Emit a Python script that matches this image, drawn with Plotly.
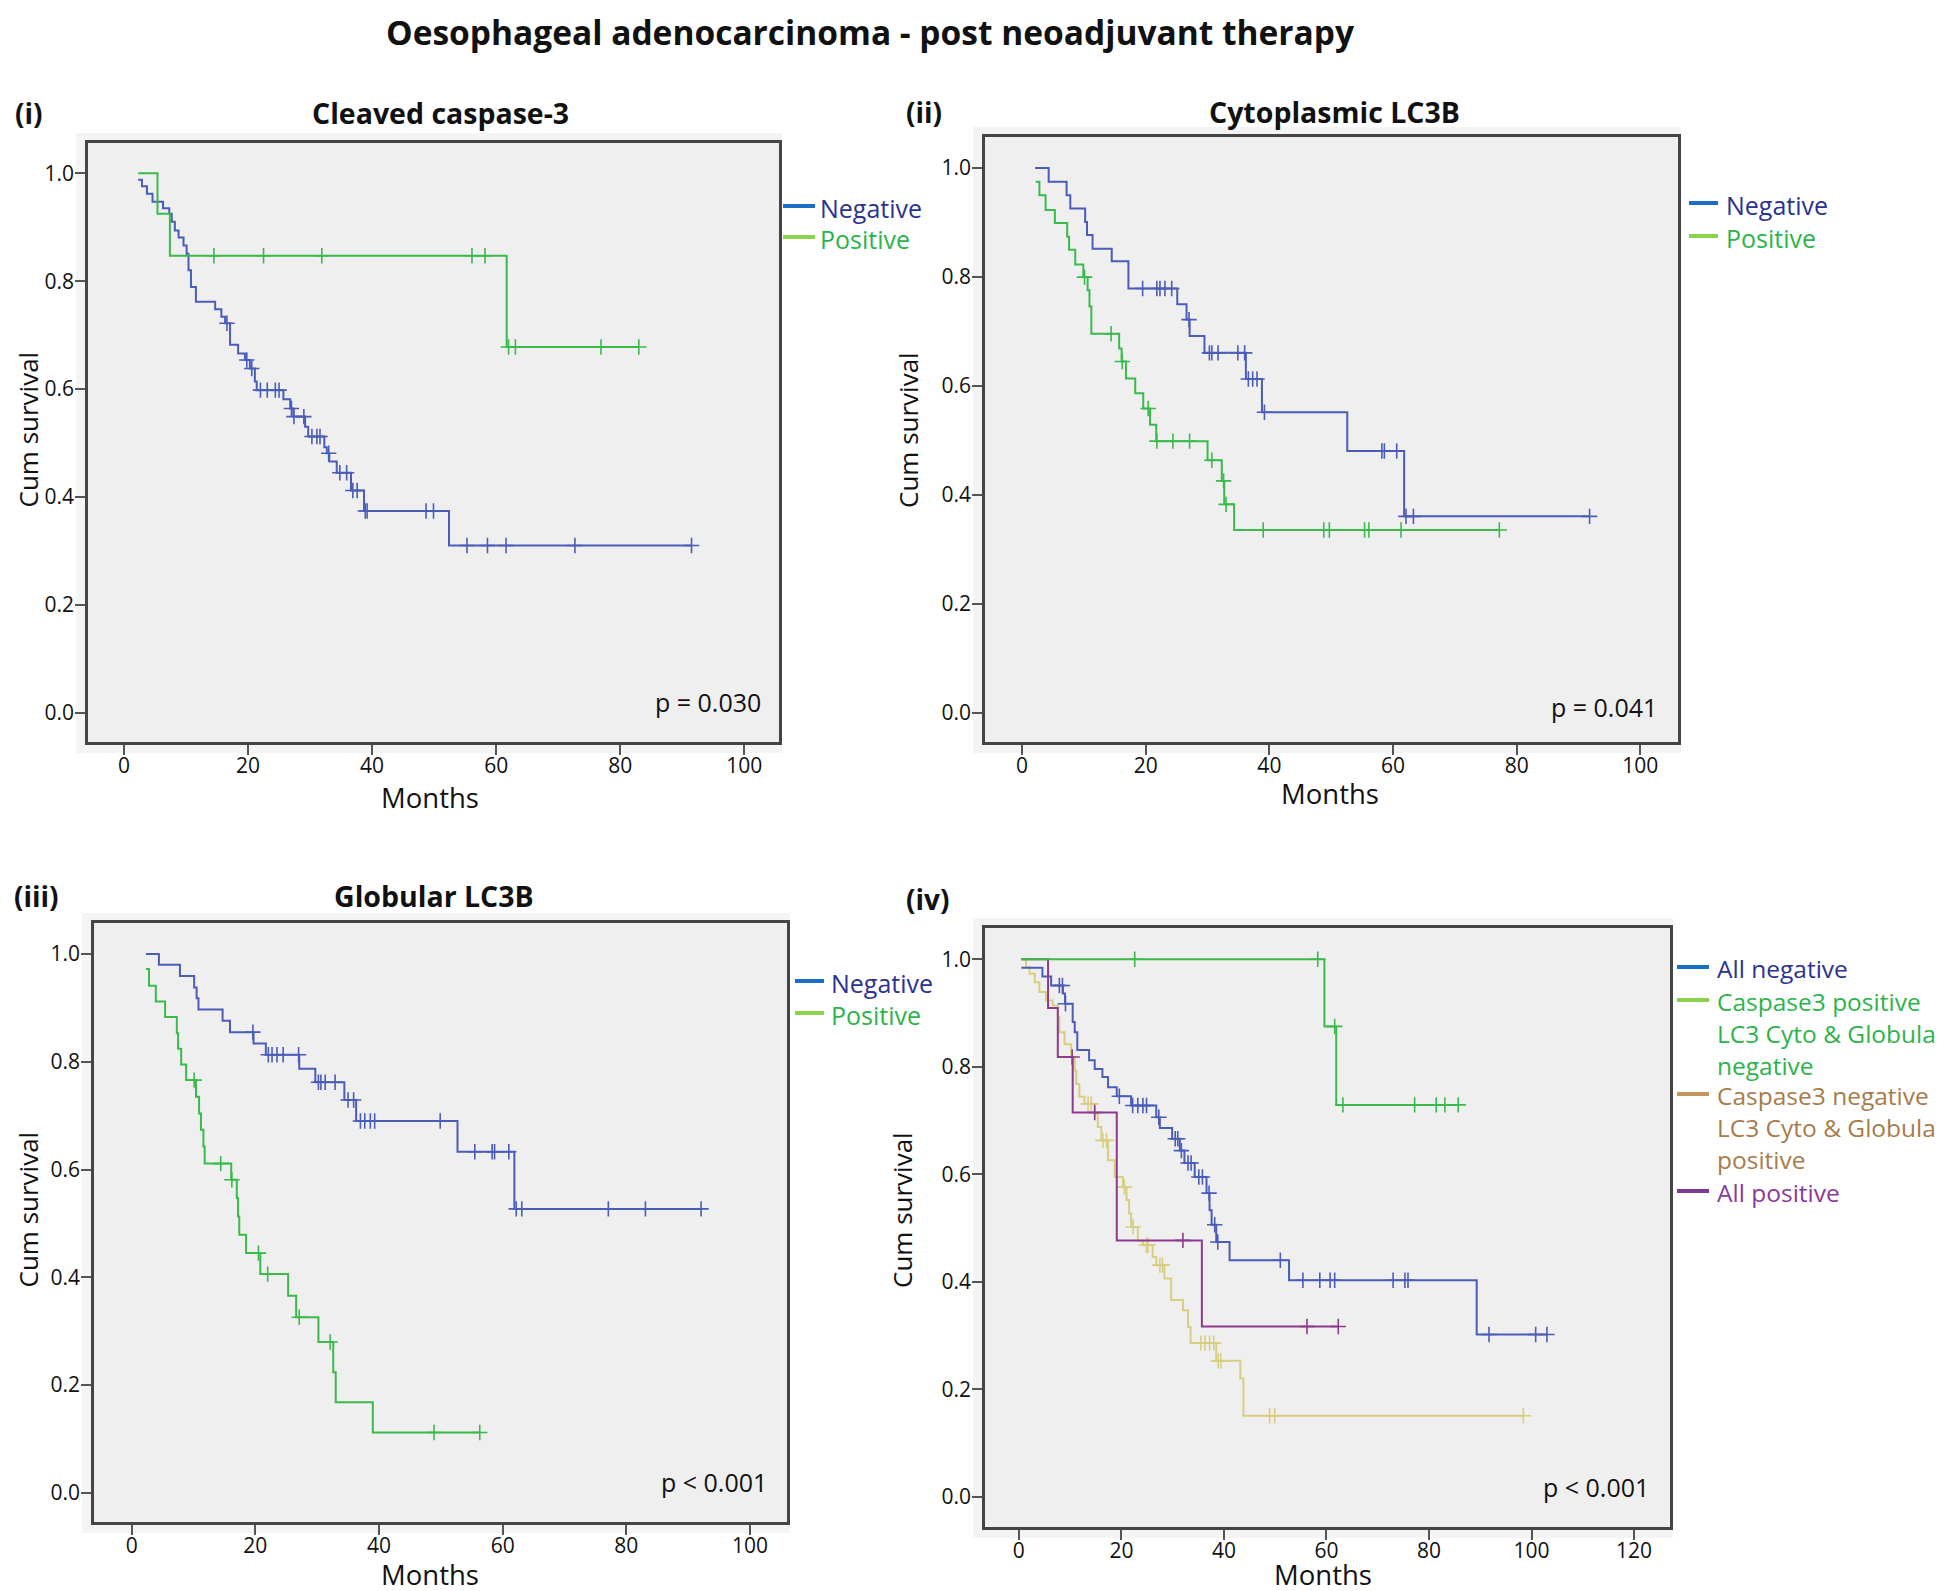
"""Kaplan-Meier panels: oesophageal adenocarcinoma after neoadjuvant therapy."""

import numpy as np
import plotly.graph_objects as go

W, H = 1944, 1591
PAGE_MARGIN = 8  # default body margin of the html page
FONT = "Open Sans"

# ---- (i) Cleaved caspase-3 ----
i_neg_t = [2.3, 2.9, 3.7, 4.6, 6.3, 7.3, 7.7, 8.2, 8.8, 9.6, 10.1, 10.4, 10.8, 11.6,
           14.7, 15.7, 16.3, 17.1, 18.4, 19.5, 20.3, 21.1, 21.4, 25.7, 26.8, 27.3,
           29.2, 29.7, 32.3, 32.7, 33.1, 34.3, 36.6, 38.7, 52.4]
i_neg_s = [0.988, 0.976, 0.962, 0.947, 0.935, 0.925, 0.910, 0.894, 0.881, 0.866, 0.851,
           0.820, 0.789, 0.762, 0.748, 0.734, 0.722, 0.682, 0.666, 0.654, 0.638, 0.614,
           0.598, 0.581, 0.564, 0.549, 0.530, 0.512, 0.492, 0.481, 0.466, 0.445, 0.412,
           0.374, 0.310]
i_neg_c = [16.6, 19.8, 20.6, 22.0, 23.1, 24.4, 25.0, 27.0, 27.4, 29.0, 30.3, 31.1, 31.6,
           33.0, 34.8, 35.9, 36.9, 37.6, 38.9, 39.2, 48.7, 49.9, 55.3, 58.6, 61.6, 72.7, 91.5]
i_pos_t = [2.3, 5.4, 7.4, 61.7]
i_pos_s = [1.0, 0.925, 0.847, 0.678]
i_pos_c = [14.5, 22.5, 31.9, 56.1, 58.2, 62.0, 63.1, 76.9, 83.0]

# ---- (ii) Cytoplasmic LC3B ----
ii_neg_t = [2.1, 4.3, 7.2, 7.8, 10.2, 10.5, 11.4, 14.5, 17.2, 25.1, 26.6, 27.1, 29.5,
            36.2, 38.8, 52.6, 61.8]
ii_neg_s = [1.0, 0.975, 0.950, 0.926, 0.901, 0.877, 0.852, 0.829, 0.779, 0.750, 0.722,
            0.692, 0.661, 0.613, 0.552, 0.481, 0.361]
ii_neg_c = [19.5, 21.8, 22.3, 23.1, 24.2, 27.0, 30.3, 30.7, 31.7, 34.9, 36.0, 36.6, 37.3,
            38.0, 39.2, 58.2, 58.6, 60.6, 62.1, 63.3, 91.8]
ii_pos_t = [2.2, 2.8, 3.8, 5.3, 7.3, 7.6, 8.6, 9.9, 10.6, 10.9, 11.2, 15.7, 16.1, 16.8,
            18.3, 19.6, 20.7, 21.7, 30.0, 32.3, 32.7, 34.3]
ii_pos_s = [0.975, 0.950, 0.923, 0.899, 0.874, 0.850, 0.823, 0.800, 0.776, 0.746, 0.696,
            0.669, 0.645, 0.614, 0.587, 0.559, 0.529, 0.499, 0.464, 0.426, 0.383, 0.336]
ii_pos_c = [10.1, 14.4, 16.2, 20.4, 21.8, 24.4, 27.1, 30.7, 32.6, 33.0, 39.0, 48.8, 49.7,
            55.4, 56.1, 61.3, 77.2]

# ---- (iii) Globular LC3B ----
iii_neg_t = [2.3, 4.4, 7.8, 10.1, 10.5, 10.8, 14.7, 15.9, 19.7, 21.7, 27.1, 29.7, 34.4,
             36.3, 52.7, 61.9]
iii_neg_s = [1.0, 0.980, 0.959, 0.938, 0.918, 0.897, 0.876, 0.855, 0.834, 0.813, 0.787,
             0.762, 0.729, 0.690, 0.633, 0.527]
iii_neg_c = [19.6, 22.1, 22.7, 23.5, 24.5, 27.0, 30.2, 30.6, 31.3, 32.9, 35.0, 35.9, 37.0,
             37.7, 38.6, 39.3, 49.9, 55.5, 58.3, 58.7, 61.0, 62.2, 63.1, 77.1, 83.1, 92.1]
iii_pos_t = [2.3, 2.8, 3.9, 5.4, 7.3, 7.5, 8.0, 8.8, 10.4, 10.9, 11.2, 11.6, 11.8, 16.1,
             17.0, 17.2, 17.4, 18.5, 20.8, 25.3, 26.6, 30.2, 32.6, 33.0, 39.0]
iii_pos_s = [0.972, 0.941, 0.912, 0.883, 0.853, 0.824, 0.795, 0.766, 0.735, 0.704, 0.674,
             0.643, 0.611, 0.581, 0.547, 0.513, 0.479, 0.445, 0.406, 0.366, 0.326, 0.280,
             0.224, 0.168, 0.112]
iii_pos_c = [10.1, 14.4, 16.2, 20.5, 22.0, 27.1, 32.1, 48.9, 56.3]

# ---- (iv) combined groups ----
iv_allneg_t = [0.5, 4.6, 6.3, 8.6, 9.0, 10.5, 10.9, 11.4, 13.7, 14.8, 16.3, 17.4, 19.1,
               21.9, 26.8, 27.5, 29.9, 31.4, 32.3, 34.3, 36.6, 37.2, 37.6, 38.5, 41.1,
               52.7, 89.3]
iv_allneg_s = [0.984, 0.968, 0.951, 0.936, 0.917, 0.883, 0.864, 0.831, 0.812, 0.796, 0.781,
               0.762, 0.745, 0.728, 0.706, 0.686, 0.666, 0.644, 0.621, 0.595, 0.565, 0.533,
               0.506, 0.474, 0.440, 0.403, 0.302]
iv_allneg_c = [7.9, 8.5, 9.1, 19.6, 22.2, 23.2, 24.2, 24.9, 27.3, 30.5, 31.0, 31.7, 33.0,
               33.6, 35.1, 35.8, 37.1, 38.2, 38.8, 51.0, 55.4, 58.7, 60.7, 61.6, 73.0, 75.3,
               75.9, 91.7, 100.8, 103.0]
iv_casp_t = [0.5, 59.6, 61.9]
iv_casp_s = [1.0, 0.875, 0.729]
iv_casp_c = [22.6, 58.3, 61.6, 63.2, 77.2, 81.4, 83.1, 85.7]
iv_lc3_t = [0.5, 1.4, 2.1, 3.1, 4.0, 5.3, 6.6, 7.6, 7.9, 8.9, 10.2, 10.9, 11.2, 11.8, 12.8,
            14.8, 15.4, 16.1, 17.4, 18.7, 20.3, 21.0, 21.5, 21.9, 23.2, 24.2, 26.1, 26.8,
            28.4, 29.7, 32.0, 33.0, 33.5, 38.5, 43.2, 43.8]
iv_lc3_s = [1.0, 0.985, 0.973, 0.957, 0.939, 0.923, 0.914, 0.892, 0.864, 0.842, 0.818,
            0.793, 0.768, 0.744, 0.731, 0.712, 0.688, 0.663, 0.626, 0.595, 0.576, 0.552,
            0.527, 0.502, 0.477, 0.468, 0.446, 0.431, 0.406, 0.366, 0.347, 0.316, 0.286,
            0.253, 0.220, 0.151]
iv_lc3_c = [13.5, 14.1, 16.4, 17.1, 20.6, 22.3, 24.9, 25.2, 27.5, 28.0, 35.5, 36.3, 37.2,
            38.0, 38.9, 39.4, 48.9, 49.9, 98.4]
iv_allpos_t = [0.5, 5.7, 7.6, 10.5, 19.1, 35.7]
iv_allpos_s = [1.0, 0.909, 0.818, 0.715, 0.477, 0.317]
iv_allpos_c = [10.4, 14.8, 32.0, 56.2, 62.3]

BLUE = "#4a5db8"
GREEN = "#3bba4c"
TAN = "#d8ce82"
PURPLE = "#8e3a8c"


def px_x(x):
    return (x - PAGE_MARGIN) / W


def px_y(y):
    return 1 - (y - PAGE_MARGIN) / H


def km_traces(t, s, cens, color, xa, ya):
    """Step line plus censor crosses for one Kaplan-Meier curve."""
    end = max([t[-1]] + list(cens))
    line = go.Scatter(
        x=list(t) + [end], y=list(s) + [s[-1]], mode="lines",
        line=dict(color=color, width=2, shape="hv"),
        xaxis=xa, yaxis=ya, showlegend=False, hoverinfo="skip",
    )
    tt = np.array(t)
    cy = [s[max(np.searchsorted(tt, c, side="right") - 1, 0)] for c in cens]
    marks = go.Scatter(
        x=cens, y=cy, mode="markers",
        marker=dict(symbol="cross-thin", size=11, line=dict(color=color, width=1.6)),
        xaxis=xa, yaxis=ya, showlegend=False, hoverinfo="skip",
    )
    return [line, marks]


# ylab: (x, y, xanchor) for the rotated "Cum survival" label
panels = [
    dict(box=(88, 143, 779, 742), xr=[-5.8, 105.6], yr=[-0.054, 1.056], xmax=100,
         curves=[(i_neg_t, i_neg_s, i_neg_c, BLUE), (i_pos_t, i_pos_s, i_pos_c, GREEN)],
         label="(i)", label_xy=(13, 113), title="Cleaved caspase-3", title_xy=(440, 113),
         p="p = 0.030", p_xy=(763, 702), ylab=(8.5, 430, "left"), months_xy=(430, 797),
         legend=dict(sw=(783, 815), tx=819, size=25,
                     items=[("#1a6fc4", "#2b3291", 206, ["Negative"]),
                            ("#8cd34c", "#2db34b", 237, ["Positive"])])),
    dict(box=(985, 137, 1678, 742), xr=[-6.0, 106.1], yr=[-0.053, 1.057], xmax=100,
         curves=[(ii_neg_t, ii_neg_s, ii_neg_c, BLUE), (ii_pos_t, ii_pos_s, ii_pos_c, GREEN)],
         label="(ii)", label_xy=(904, 112), title="Cytoplasmic LC3B", title_xy=(1334, 112),
         p="p = 0.041", p_xy=(1659, 707), ylab=(908, 430, "center"), months_xy=(1330, 794),
         legend=dict(sw=(1689, 1718), tx=1725, size=25,
                     items=[("#1a6fc4", "#2b3291", 203, ["Negative"]),
                            ("#8cd34c", "#2db34b", 236, ["Positive"])])),
    dict(box=(94, 923, 787, 1522), xr=[-6.1, 106.0], yr=[-0.054, 1.0575], xmax=100,
         curves=[(iii_neg_t, iii_neg_s, iii_neg_c, BLUE),
                 (iii_pos_t, iii_pos_s, iii_pos_c, GREEN)],
         label="(iii)", label_xy=(12, 896), title="Globular LC3B", title_xy=(434, 896),
         p="p < 0.001", p_xy=(769, 1482), ylab=(8.5, 1210, "left"), months_xy=(430, 1574),
         legend=dict(sw=(795, 824), tx=830, size=25,
                     items=[("#1a6fc4", "#2b3291", 981, ["Negative"]),
                            ("#8cd34c", "#2db34b", 1013, ["Positive"])])),
    dict(box=(985, 928, 1670, 1527), xr=[-6.6, 127.0], yr=[-0.056, 1.058], xmax=120,
         curves=[(iv_lc3_t, iv_lc3_s, iv_lc3_c, TAN),
                 (iv_allneg_t, iv_allneg_s, iv_allneg_c, BLUE),
                 (iv_allpos_t, iv_allpos_s, iv_allpos_c, PURPLE),
                 (iv_casp_t, iv_casp_s, iv_casp_c, GREEN)],
         label="(iv)", label_xy=(904, 899), title=None, title_xy=None,
         p="p < 0.001", p_xy=(1651, 1487), ylab=(902, 1210, "center"), months_xy=(1323, 1574),
         legend=dict(sw=(1677, 1709), tx=1716, size=24.5,
                     items=[("#1a6fc4", "#2b3291", 967, ["All negative"]),
                            ("#8cd34c", "#2db34b", 1000,
                             ["Caspase3 positive", "LC3 Cyto & Globular", "negative"]),
                            ("#c4965e", "#a87b4b", 1094,
                             ["Caspase3 negative", "LC3 Cyto & Globular", "positive"]),
                            ("#7c3b95", "#8a3a9a", 1191, ["All positive"])])),
]

fig = go.Figure()
layout = dict(
    width=W, height=H, margin=dict(l=0, r=0, t=0, b=0),
    paper_bgcolor="white", plot_bgcolor="rgba(0,0,0,0)",
    font=dict(family=FONT, color="#111"), showlegend=False,
)
shapes = []
annotations = []

for k, p in enumerate(panels, start=1):
    xa, ya = ("x", "y") if k == 1 else (f"x{k}", f"y{k}")
    x0, y0, x1, y1 = p["box"]
    for t, s, c, col in p["curves"]:
        for tr in km_traces(t, s, c, col, xa, ya):
            fig.add_trace(tr)

    axis_common = dict(
        showline=True, linecolor="#454545", linewidth=2.5, mirror=True,
        ticks="outside", ticklen=10, tickwidth=1.5, tickcolor="#555",
        showgrid=False, zeroline=False,
        tickfont=dict(family=FONT, size=21, color="#111"),
    )
    layout["xaxis" if k == 1 else f"xaxis{k}"] = dict(
        domain=[px_x(x0), px_x(x1)], range=p["xr"], anchor=ya,
        tickvals=list(range(0, p["xmax"] + 1, 20)), ticklabelstandoff=-7, **axis_common,
    )
    layout["yaxis" if k == 1 else f"yaxis{k}"] = dict(
        domain=[px_y(y1), px_y(y0)], range=p["yr"], anchor=xa,
        tickvals=[0, 0.2, 0.4, 0.6, 0.8, 1.0], tickformat=".1f",
        ticklabelstandoff=-3, **axis_common,
    )

    # SPSS-style chart area behind the frame
    shapes.append(dict(type="rect", xref="paper", yref="paper", layer="below",
                       x0=px_x(x0 - 12), x1=px_x(x1 + 3), y0=px_y(y1 + 11), y1=px_y(y0 - 10),
                       fillcolor="#f4f4f4", line=dict(width=0)))
    shapes.append(dict(type="rect", xref="paper", yref="paper", layer="below",
                       x0=px_x(x0), x1=px_x(x1), y0=px_y(y1), y1=px_y(y0),
                       fillcolor="#efefef", line=dict(width=0)))

    annotations.append(dict(text=f"<b>{p['label']}</b>", x=px_x(p["label_xy"][0]),
                            y=px_y(p["label_xy"][1]), xanchor="left", yanchor="middle",
                            font=dict(size=28, color="#111")))
    if p["title"]:
        annotations.append(dict(text=f"<b>{p['title']}</b>", x=px_x(p["title_xy"][0]),
                                y=px_y(p["title_xy"][1]), xanchor="center", yanchor="middle",
                                font=dict(size=28.5, color="#111")))
    annotations.append(dict(text=p["p"], x=px_x(p["p_xy"][0]), y=px_y(p["p_xy"][1]),
                            xanchor="right", yanchor="middle",
                            font=dict(size=25, color="#111")))
    yl_x, yl_y, yl_anchor = p["ylab"]
    annotations.append(dict(text="Cum survival", x=px_x(yl_x), y=px_y(yl_y), textangle=-90,
                            xanchor=yl_anchor, yanchor="middle", borderpad=0,
                            font=dict(size=26, color="#111")))
    annotations.append(dict(text="Months", x=px_x(p["months_xy"][0]),
                            y=px_y(p["months_xy"][1]), xanchor="center", yanchor="middle",
                            borderpad=0, font=dict(size=27.5, color="#111")))

    lg = p["legend"]
    line_h = 1.3 * lg["size"]
    for sw_col, tcol, ys, lines in lg["items"]:
        shapes.append(dict(type="line", xref="paper", yref="paper",
                           x0=px_x(lg["sw"][0]), x1=px_x(lg["sw"][1]),
                           y0=px_y(ys), y1=px_y(ys), line=dict(color=sw_col, width=4)))
        annotations.append(dict(text="<br>".join(lines), x=px_x(lg["tx"]),
                                y=px_y(ys - line_h / 2), xanchor="left", yanchor="top",
                                align="left", borderpad=0,
                                font=dict(size=lg["size"], color=tcol)))

annotations.append(dict(text="<b>Oesophageal adenocarcinoma - post neoadjuvant therapy</b>",
                        x=px_x(870), y=px_y(8.5), xanchor="center", yanchor="top",
                        borderpad=0, font=dict(size=33.5, color="#111")))

for a in annotations:
    a.setdefault("xref", "paper")
    a.setdefault("yref", "paper")
    a.setdefault("showarrow", False)

layout["shapes"] = shapes
layout["annotations"] = annotations
fig.update_layout(**layout)

fig.write_html("out.html")
